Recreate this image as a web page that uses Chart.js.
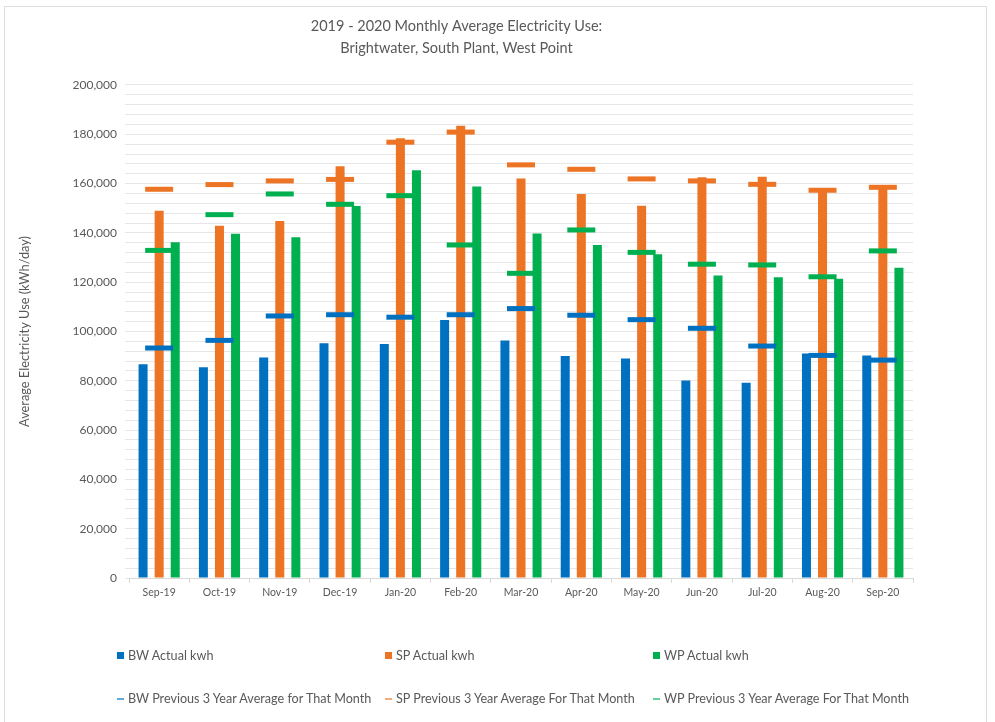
<!DOCTYPE html>
<html>
<head>
<meta charset="utf-8">
<script src="https://cdn.jsdelivr.net/npm/chart.js@4.4.1/dist/chart.umd.min.js"></script>
<style>
  body { margin: 0; background: #fff; }
  #wrap { position: relative; width: 995px; height: 722px; overflow: hidden; }
  #frame { position: absolute; left: 4px; top: 6px; width: 981px; height: 730px; border: 1px solid #dcdcdc; }
  #myChart { position: absolute; left: 0; top: 0; }
  .lg { position: absolute; font: 12.6px Lato, sans-serif; color: #595959; white-space: nowrap; line-height: 14px; }
  .lg i { display: inline-block; width: 7px; vertical-align: middle; margin-right: 4px; position: relative; top: -1px; }
</style>
</head>
<body>
<div id="wrap">
  <div id="frame"></div>
  <canvas id="myChart" width="995" height="722"></canvas>
  <div id="legend"></div>
</div>
<script>
const months = ["Sep-19", "Oct-19", "Nov-19", "Dec-19", "Jan-20", "Feb-20", "Mar-20",
  "Apr-20", "May-20", "Jun-20", "Jul-20", "Aug-20", "Sep-20"];

// actual kwh per day
const bwActual = [86700, 85500, 89500, 95200, 94900, 104700, 96300, 90100, 89000, 80100, 79200, 91100, 90300];
const spActual = [149000, 142900, 144800, 167000, 178400, 183500, 162100, 155800, 151000, 162600, 162800, 157000, 159400];
const wpActual = [136200, 139700, 138200, 150900, 165400, 158800, 139800, 135100, 131300, 122700, 122000, 121400, 125900];

// previous 3 year average for that month
const bwAvg = [93300, 96400, 106300, 106800, 105800, 106800, 109300, 106600, 104800, 101300, 94100, 90300, 88400];
const spAvg = [157700, 159600, 161100, 161700, 176800, 180900, 167600, 165800, 161900, 161100, 159700, 157300, 158500];
const wpAvg = [132900, 147400, 155800, 151600, 155100, 135100, 123600, 141200, 132100, 127300, 127000, 122200, 132700];

const blue = "#0070C0";
const orange = "#EC7424";
const green = "#00B050";
const grey = "#595959";

function avgSet(label, data, color) {
  return {
    type: "line",
    label: label,
    data: data,
    showLine: false,
    pointStyle: "line",
    pointRadius: 14,
    pointHoverRadius: 14,
    pointBorderWidth: 5,
    pointHoverBorderWidth: 5,
    pointBorderColor: color,
    pointBackgroundColor: color,
    borderColor: color,
    backgroundColor: color,
    order: 0,
  };
}

function barSet(label, data, color) {
  return {
    type: "bar",
    label: label,
    data: data,
    backgroundColor: color,
    borderColor: color,
    categoryPercentage: 0.8,
    barPercentage: 0.56,
    order: 1,
  };
}

const ctx = document.getElementById("myChart");
let myChart = new Chart(ctx, {
  data: {
    labels: months,
    datasets: [
      barSet("BW Actual kwh", bwActual, blue),
      barSet("SP Actual kwh", spActual, orange),
      barSet("WP Actual kwh", wpActual, green),
      avgSet("BW Previous 3 Year Average for That Month", bwAvg, blue),
      avgSet("SP Previous 3 Year Average For That Month", spAvg, orange),
      avgSet("WP Previous 3 Year Average For That Month", wpAvg, green),
    ],
  },
  options: {
    responsive: false,
    animation: false,
    layout: { padding: { left: 0, right: 82, top: 0, bottom: 114 } },
    plugins: {
      legend: { display: false },
      tooltip: { enabled: false },
      title: {
        display: true,
        text: ["2019 - 2020 Monthly Average Electricity Use:", "Brightwater, South Plant, West Point"],
        color: grey,
        font: { family: "Lato", size: 14.5, weight: "normal", lineHeight: 1.517 },
        padding: { top: 15, bottom: 26 },
      },
    },
    scales: {
      x: {
        grid: { drawOnChartArea: false, tickLength: 5, color: "#d9d9d9" },
        border: { color: "#d9d9d9" },
        ticks: { color: grey, font: { family: "Lato", size: 10.5 }, padding: 3, maxRotation: 0 },
        afterFit: (scale) => { scale.height = 30; },
      },
      y: {
        min: 0,
        max: 200000,
        grid: { color: "#e6e6e6", tickLength: 4 },
        border: { display: false },
        ticks: {
          stepSize: 4000,
          autoSkip: false,
          color: grey,
          font: { family: "Lato", size: 12 },
          padding: 8,
          callback: (v) => (v % 20000 === 0 ? v.toLocaleString("en-US") : ""),
        },
        title: {
          display: true,
          text: "Average Electricity Use (kWh/day)",
          color: grey,
          font: { family: "Lato", size: 12.8 },
          padding: { top: 17, bottom: 0 },
        },
        afterFit: (scale) => { scale.width = 129; },
      },
    },
  },
});

// legend laid out in three columns like the original
const legendCols = [117, 385, 653];
const legendRows = [649, 692];
const lg = document.getElementById("legend");
myChart.data.datasets.forEach((ds, i) => {
  const d = document.createElement("div");
  d.className = "lg";
  d.style.left = legendCols[i % 3] + "px";
  d.style.top = legendRows[Math.floor(i / 3)] + "px";
  const mark = document.createElement("i");
  mark.style.background = ds.borderColor;
  mark.style.height = ds.type === "bar" ? "7px" : "2px";
  if (ds.type !== "bar") mark.style.opacity = "0.6";
  d.appendChild(mark);
  d.appendChild(document.createTextNode(ds.label));
  lg.appendChild(d);
});
</script>
</body>
</html>
